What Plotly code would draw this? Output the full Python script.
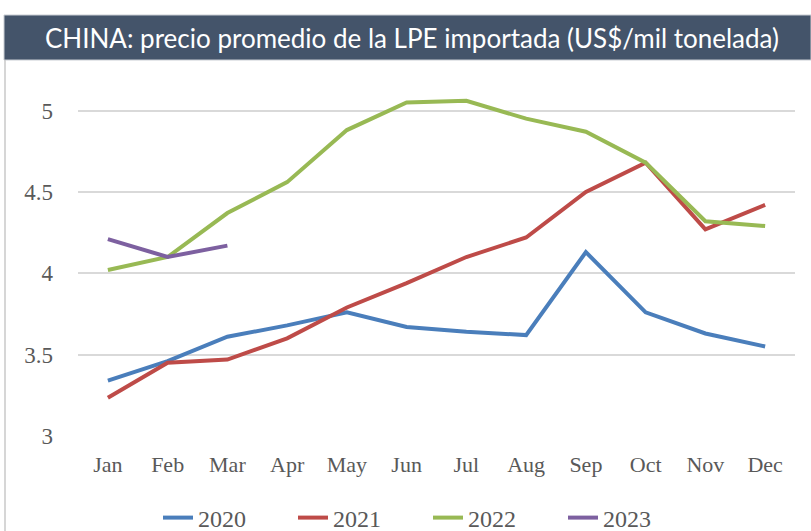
import plotly.graph_objects as go

months = ["Jan", "Feb", "Mar", "Apr", "May", "Jun", "Jul", "Aug", "Sep", "Oct", "Nov", "Dec"]
s2020 = [3.34, 3.46, 3.61, 3.68, 3.76, 3.67, 3.64, 3.62, 4.13, 3.76, 3.63, 3.55]
s2021 = [3.235, 3.45, 3.47, 3.60, 3.79, 3.94, 4.10, 4.22, 4.50, 4.68, 4.27, 4.42]
s2022 = [4.02, 4.10, 4.37, 4.56, 4.88, 5.05, 5.06, 4.95, 4.87, 4.68, 4.32, 4.29]
s2023 = [4.21, 4.10, 4.17]
series_names = ["2020", "2021", "2022", "2023"]
colors = ["#4A7EBB", "#BE4B48", "#98B954", "#7D60A0"]
title_text = "CHINA: precio promedio de la LPE importada (US$/mil tonelada)"

W, H = 811, 531
L, R, T, B = 78, 16, 78, 95
pw, ph = W - L - R, H - T - B
SERIF = "Liberation Serif"

def px2x(px):
    return (px - L) / pw

def py2y(py):
    return (H - B - py) / ph

fig = go.Figure()
for name, vals, c in zip(series_names, [s2020, s2021, s2022, s2023], colors):
    fig.add_trace(go.Scatter(x=months[:len(vals)], y=vals, name=name, mode="lines",
                             line=dict(color=c, width=4)))

fig.add_shape(type="rect", xref="paper", yref="paper",
              x0=px2x(4), x1=px2x(811), y0=py2y(60), y1=py2y(15),
              fillcolor="#44546A", line=dict(color="#C9CDD3", width=1), layer="below")
fig.add_shape(type="line", xref="paper", yref="paper",
              x0=px2x(5), x1=px2x(5), y0=py2y(531), y1=py2y(60),
              line=dict(color="#C8C8C8", width=1.5))
fig.add_annotation(text=title_text, xref="paper", yref="paper",
                   x=px2x(412), y=py2y(38), xanchor="center", yanchor="middle",
                   showarrow=False,
                   font=dict(family="Lato", size=26, color="white"))

fig.update_layout(
    width=W, height=H,
    margin=dict(l=L, r=R, t=T, b=B),
    plot_bgcolor="white", paper_bgcolor="white",
    showlegend=True,
    legend=dict(orientation="h", xref="container", yref="container",
                x=428 / W, y=1 - 518 / H, xanchor="center", yanchor="middle",
                font=dict(family=SERIF, size=24, color="#595959"),
                entrywidth=90, entrywidthmode="pixels", tracegroupgap=0),
    xaxis=dict(type="category", range=[-0.5, 11.5], showgrid=False, zeroline=False,
               showline=False, ticks="", ticklabelstandoff=13,
               tickfont=dict(family=SERIF, size=22, color="#595959")),
    yaxis=dict(range=[3, 5.2], tickvals=[3, 3.5, 4, 4.5, 5], ticktext=["3", "3.5", "4", "4.5", "5"],
               showgrid=True, gridcolor="#D9D9D9", gridwidth=1.5, zeroline=False, showline=False,
               ticks="", ticklabelstandoff=24,
               tickfont=dict(family=SERIF, size=23, color="#595959")),
)

fig.write_html("out.html", post_script="document.body.style.margin='0px';",
               config={"displayModeBar": False})
